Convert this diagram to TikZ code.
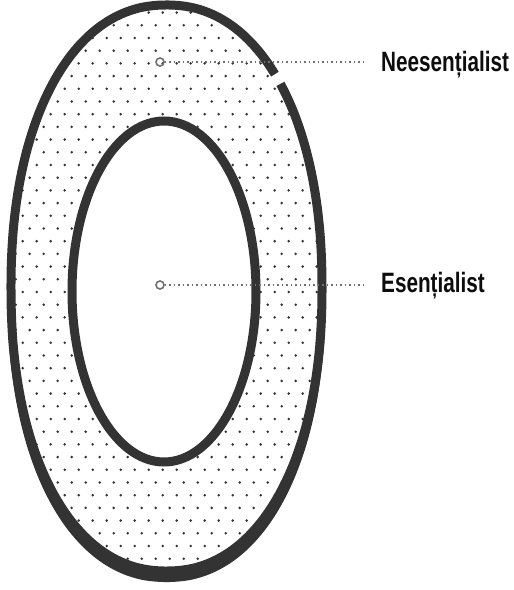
\documentclass[tikz,border=0pt]{standalone}
\usepackage{fontspec}
\usepackage{tikz}
\usetikzlibrary{positioning, calc}
\newfontfamily\lblfont{Liberation Sans}[FakeStretch=0.74, BoldFont={Liberation Sans Bold}]
\definecolor{ringgray}{HTML}{333333}
\definecolor{markgray}{HTML}{707070}
% slightly squarish oval
\pgfmathdeclarefunction{sqx}{1}{\pgfmathparse{(cos(#1)<0 ? -1 : 1)*pow(abs(cos(#1))+0.00001,0.92)}}
\pgfmathdeclarefunction{sqy}{1}{\pgfmathparse{(sin(#1)<0 ? -1 : 1)*pow(abs(sin(#1))+0.00001,0.92)}}
\tikzset{
    ring/.style={draw=ringgray, line width=9pt},
    marker/.style={circle, draw=markgray, line width=1.6pt, minimum size=8pt, inner sep=0pt},
    leader/.style={draw=markgray, line width=1.6pt, dash pattern=on 1.5pt off 3pt},
    lbl/.style={anchor=base west, inner xsep=14pt, inner ysep=0pt, text=black!95,
                font=\lblfont\bfseries\fontsize{28}{30}\selectfont}
}

\begin{document}
\begin{tikzpicture}[x=1pt, y=1pt]
    \useasboundingbox (0,0) rectangle (514,590);

    % Outer oval: centre (166.5,302), radii 155.5 and 283
    % Dotted fill between the two rings
    \begin{scope}
        \clip plot[smooth cycle, domain=0:356, samples=90]
            ({166.5+155.5*sqx(\x)},{302+283*sqy(\x)});
        \foreach \k in {-14,...,33} {
            \pgfmathsetmacro{\yy}{425-12.7*\k}
            \pgfmathsetmacro{\sh}{mod(\k+14,2)*7}
            \foreach \i in {0,...,24} {
                \fill[ringgray] ({-5.3+\sh+14*\i},\yy) circle (1.4);
            }
        }
    \end{scope}
    \fill[white] (164,298.5) ellipse (92 and 170.5);

    % Outer ring, open at the upper right
    \draw[ring] plot[smooth, domain=47.5:404.5, samples=120]
        ({166.5+155.5*sqx(\x)},{302+283*sqy(\x)});
    % heavier bottom of the outer ring
    \fill[ringgray] plot[smooth, domain=185:355, samples=60]
            ({166.5+159*sqx(\x)},{295+287*sqy(\x)})
        -- plot[smooth, domain=355:185, samples=60]
            ({166.5+155.5*sqx(\x)},{302+283*sqy(\x)})
        -- cycle;

    % Inner ring
    \draw[ring] (164,298.5) ellipse (92 and 170.5);

    % Markers and labels
    \node[marker] (nees) at (160,528) {};
    \node[lbl] (neesLbl) at (367,518) {Neesențialist};
    \draw[leader] (nees) -- (neesLbl.west |- nees);

    \node[marker] (es) at (160,305) {};
    \node[lbl] (esLbl) at (367,297) {Esențialist};
    \draw[leader] (es) -- (esLbl.west |- es);

\end{tikzpicture}
\end{document}
